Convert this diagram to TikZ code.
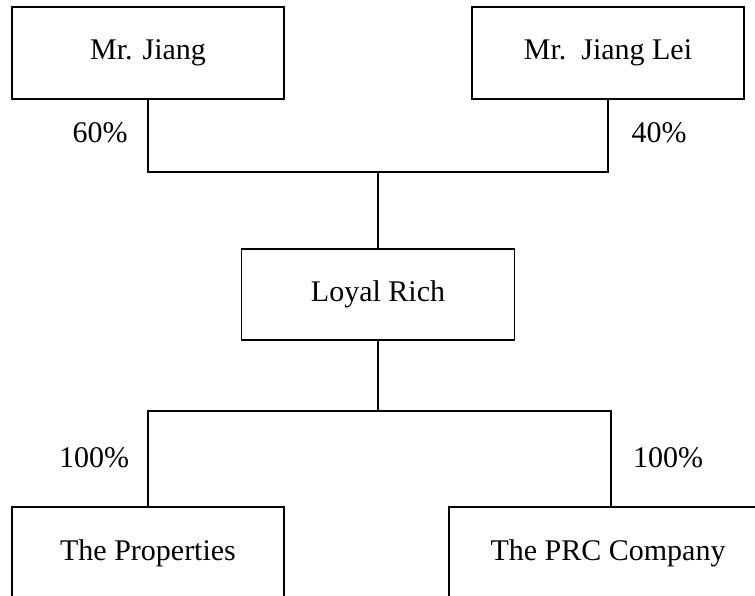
\documentclass[tikz,border=0pt]{standalone}
\usepackage{fontspec}
\setmainfont{Liberation Serif}
\begin{document}
\begin{tikzpicture}[x=1pt,y=-1pt,
  box/.style={draw,line width=1.2pt,rectangle,inner sep=0pt,font=\fontsize{30}{36}\selectfont},
  lbl/.style={inner sep=0pt,font=\fontsize{30}{36}\selectfont},
  conn/.style={line width=1.2pt}]
\useasboundingbox (0,0) rectangle (755,596);
\clip (0,0) rectangle (755,596);
\node[box,minimum width=272pt,minimum height=92pt] (mj) at (148,53) {Mr. Jiang};
\node[box,minimum width=272pt,minimum height=92pt] (mjl) at (608,53) {Mr.\ \ Jiang Lei};
\node[box,minimum width=273pt,minimum height=91pt] (lr) at (378,294.5) {Loyal Rich};
\node[box,minimum width=272pt,minimum height=92pt] (tp) at (148,553) {The Properties};
\node[box,minimum width=318pt,minimum height=92pt] (prc) at (608,553) {The PRC Company};
\coordinate (top) at (378,172);
\coordinate (bot) at (378,411);
\draw[conn] (mj.south) |- (top) -| (mjl.south);
\draw[conn] (top) -- (lr.north);
\draw[conn] (lr.south) -- (bot);
\draw[conn] (tp.north) |- (bot) -| ([xshift=3pt]prc.north);
\node[lbl] (p60) at (100,133) {60\%};
\node[lbl] (p40) at (659,133) {40\%};
\node[lbl] (p100a) at (94,458) {100\%};
\node[lbl] (p100b) at (668,458) {100\%};
\end{tikzpicture}
\end{document}
